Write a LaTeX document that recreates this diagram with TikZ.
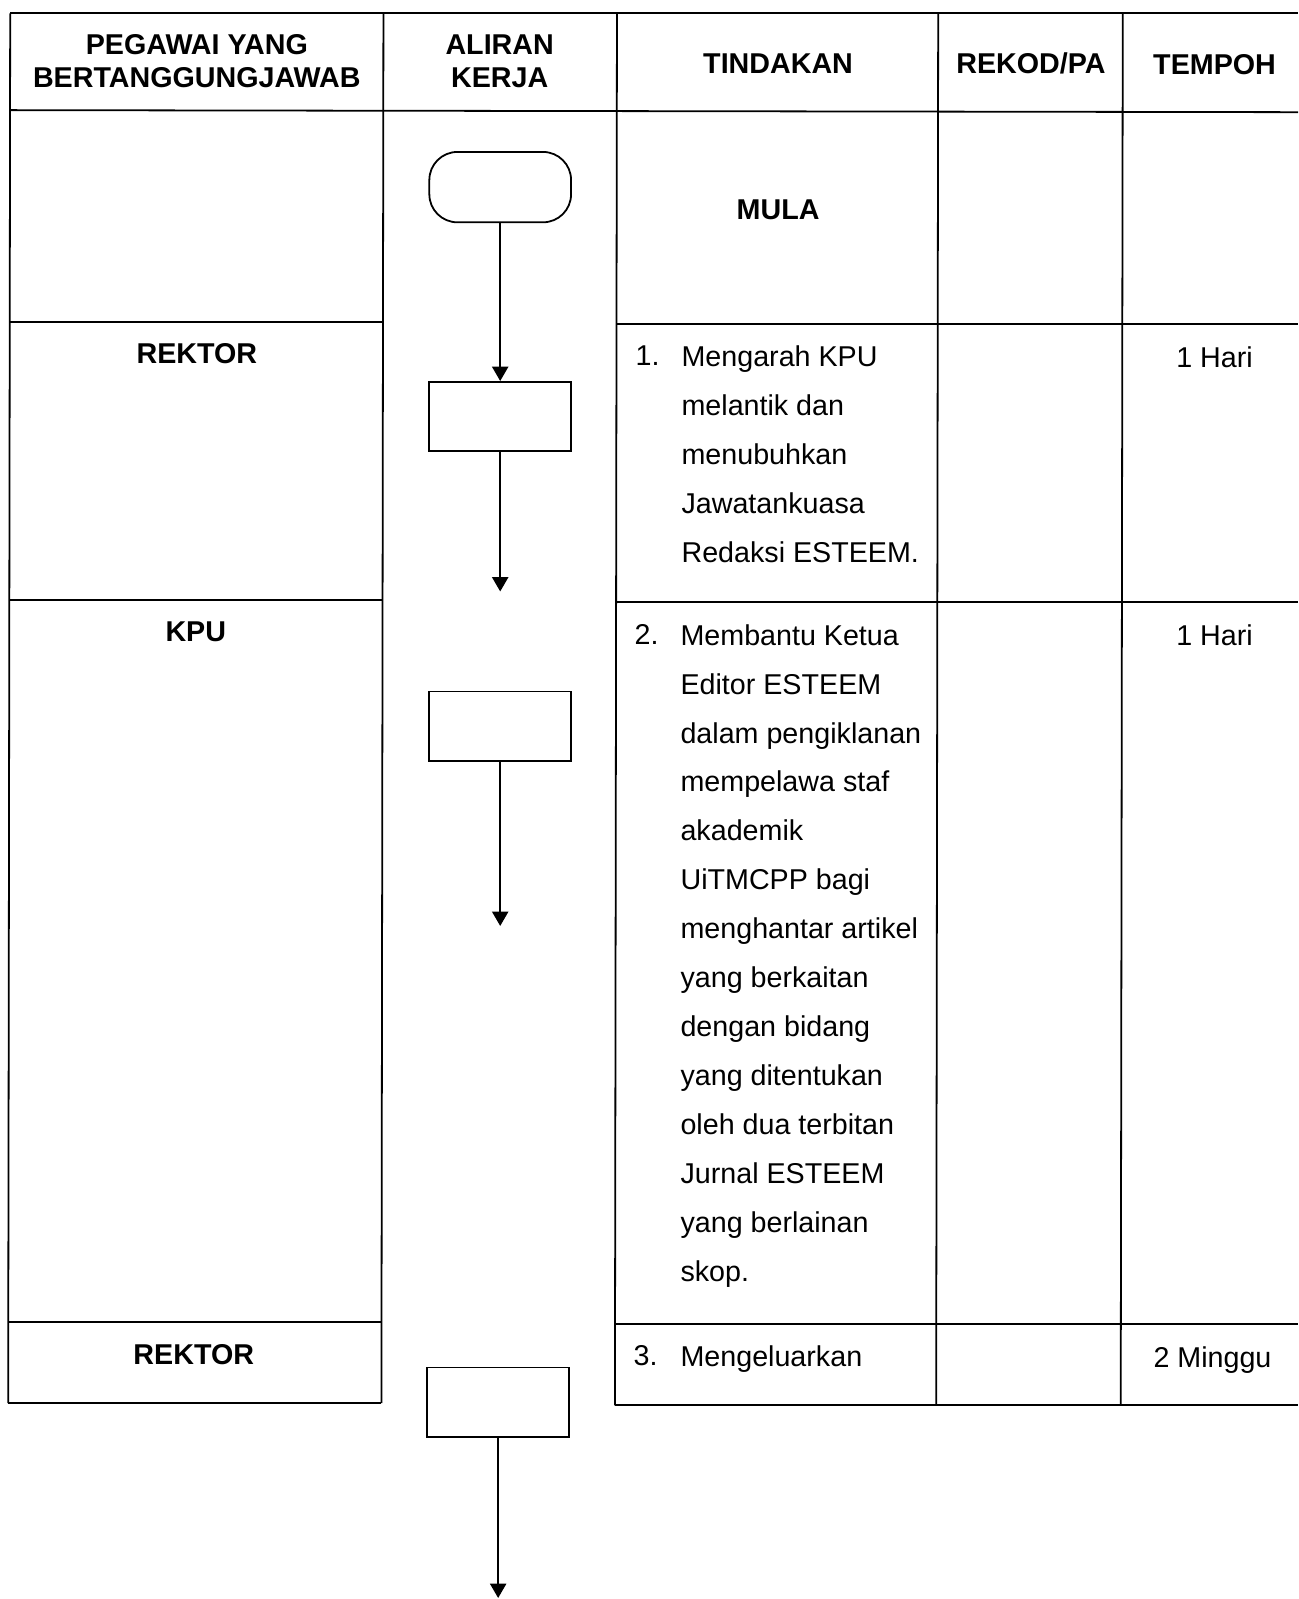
\documentclass[tikz,border=0pt]{standalone}
\usepackage{fontspec}
\setmainfont{Liberation Sans}
\usetikzlibrary{arrows.meta,shapes,positioning}

\begin{document}
\begin{tikzpicture}[
    x=0.02cm, y=-0.02cm,
    rule/.style={line width=1pt},
    header/.style={font=\fontsize{16}{18.1}\selectfont\bfseries, align=center},
    officer/.style={font=\fontsize{16}{18}\selectfont\bfseries},
    stepno/.style={font=\fontsize{16}{27.3}\selectfont, anchor=north west, inner sep=0pt},
    steptext/.style={font=\fontsize{16}{27.3}\selectfont, align=left, anchor=north west, inner sep=0pt},
    period/.style={font=\fontsize{16}{18}\selectfont, anchor=base},
    terminal/.style={rectangle, draw, line width=1pt, rounded corners=0.55cm, minimum width=2.78cm, minimum height=1.38cm},
    process/.style={rectangle, draw, line width=1pt, minimum width=2.78cm, minimum height=1.36cm},
    flow/.style={line width=1pt, -{Triangle[length=8pt,width=9pt]}}
  ]
    \useasboundingbox (0,0) rectangle (1273,1568);

    % Table rules
    \draw[rule] (10,13) -- (1273,13);
    \draw[rule] (10,108) -- (1273,110);
    \draw[rule] (10,316) -- (376,316);
    \draw[rule] (9,588) -- (375,588);
    \draw[rule] (8,1296) -- (374,1296);
    \draw[rule] (8,1376) -- (374,1376);
    \draw[rule] (605,318) -- (1273,318);
    \draw[rule] (605,590) -- (1273,590);
    \draw[rule] (603,1298) -- (1273,1298);
    \draw[rule] (603,1378) -- (1273,1378);
    \draw[rule] (10,13) -- (8,1376);
    \draw[rule] (376,13) -- (374,1376);
    \draw[rule] (605,13) -- (603,1378);
    \draw[rule] (920,13) -- (918,1378);
    \draw[rule] (1101,13) -- (1099,1378);

    % Headers
    \node[header] (hpegawai) at (193,60) {PEGAWAI YANG\\BERTANGGUNGJAWAB};
    \node[header] (haliran) at (490,60) {ALIRAN\\KERJA};
    \node[header] (htindakan) at (763,62) {TINDAKAN};
    \node[header] (hrekod) at (1011,62) {REKOD/PA};
    \node[header] (htempoh) at (1191,63) {TEMPOH};

    % Officers
    \node[officer] (rektorA) at (193,347) {REKTOR};
    \node[officer] (kpu) at (192,620) {KPU};
    \node[officer] (rektorB) at (190,1328) {REKTOR};

    % Actions
    \node[officer] (mula) at (763,206) {MULA};
    \node[stepno] (noA) at (623,339) {1.};
    \node[steptext] (actA) at (668,339) {Mengarah KPU\\melantik dan\\menubuhkan\\Jawatankuasa\\Redaksi ESTEEM.};
    \node[stepno] (noB) at (622,612) {2.};
    \node[steptext] (actB) at (667,612) {Membantu Ketua\\Editor ESTEEM\\dalam pengiklanan\\mempelawa staf\\akademik\\UiTMCPP bagi\\menghantar artikel\\yang berkaitan\\dengan bidang\\yang ditentukan\\oleh dua terbitan\\Jurnal ESTEEM\\yang berlainan\\skop.};
    \node[stepno] (noC) at (621,1319) {3.};
    \node[steptext] (actC) at (667,1319) {Mengeluarkan};

    % Periods
    \node[period] (tA) at (1191,360) {1 Hari};
    \node[period] (tB) at (1191,633) {1 Hari};
    \node[period] (tC) at (1189,1341) {2 Minggu};

    % Work flow
    \node[terminal] (start) at (490.5,183.5) {};
    \node[process] (boxA) at (490.5,408.5) {};
    \node[process] (boxB) at (490.5,712) {};
    \node[process] (boxC) at (488.5,1375) {};
    \coordinate (endA) at (490.5,580);
    \coordinate (endB) at (490.5,908);
    \coordinate (endC) at (488.5,1567);

    \draw[flow] (start) -- (boxA);
    \draw[flow] (boxA) -- (endA);
    \draw[flow] (boxB) -- (endB);
    \draw[flow] (boxC) -- (endC);
  \end{tikzpicture}
\end{document}
